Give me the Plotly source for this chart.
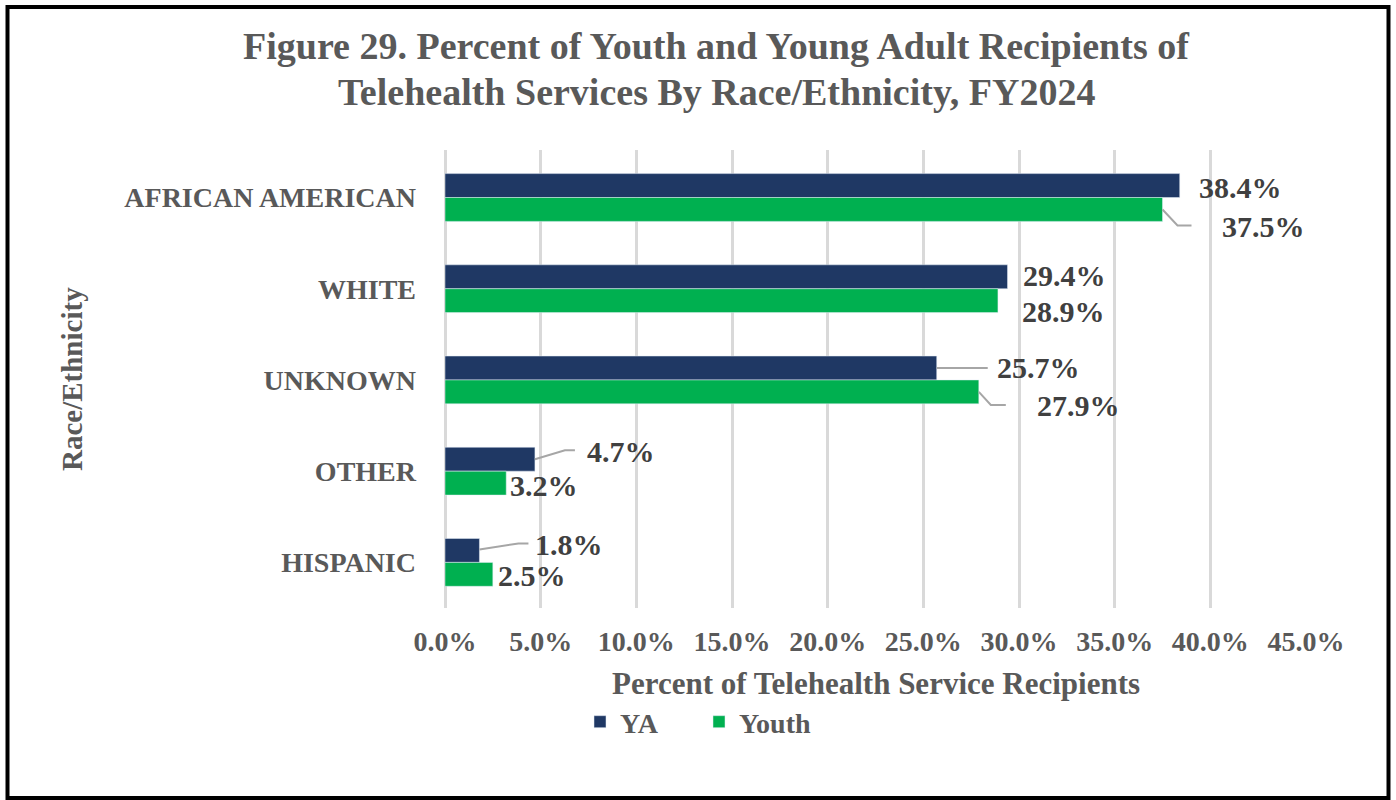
import plotly.graph_objects as go

# ---------------- data ----------------
categories = ["AFRICAN AMERICAN", "WHITE", "UNKNOWN", "OTHER", "HISPANIC"]
ya_values = [38.4, 29.4, 25.7, 4.7, 1.8]
youth_values = [37.5, 28.9, 27.9, 3.2, 2.5]
series_names = ["YA", "Youth"]
x_ticks = [0, 5, 10, 15, 20, 25, 30, 35, 40, 45]
x_tick_labels = [f"{v:.1f}%" for v in x_ticks]

title_lines = ["Figure 29. Percent of Youth and Young Adult Recipients of",
               "Telehealth Services By Race/Ethnicity, FY2024"]
x_title = "Percent of Telehealth Service Recipients"
y_title = "Race/Ethnicity"

# ---------------- style / layout ----------------
W, H = 1396, 800
ML, MR, MT, MB = 445, 90, 150, 192
PW, PH = W - ML - MR, H - MT - MB
YA_COLOR = "#1F3864"
YOUTH_COLOR = "#00B050"
TEXT_GRAY = "#595959"
LABEL_GRAY = "#404040"
GRID = "#D9D9D9"
LEADER = "#A6A6A6"
SERIF = "Liberation Serif"
BAR_HALF = 12  # half bar thickness in px (bar center offset from category center)


def px_to_paper_x(px):
    return (px - ML) / PW


def px_to_paper_y(py):
    return (MT + PH - py) / PH


fig = go.Figure()
fig.add_trace(go.Bar(y=categories, x=ya_values, name=series_names[0], orientation="h",
                     marker=dict(color=YA_COLOR)))
fig.add_trace(go.Bar(y=categories, x=youth_values, name=series_names[1], orientation="h",
                     marker=dict(color=YOUTH_COLOR)))

# label offsets (px): dx from bar end, dy from category center (down positive)
ya_label_off = [(17, -10), (13, -13), (58, -12), (50, -20), (54, -18)]
youth_label_off = [(57, 29), (22, 23), (56, 26), (2, 14), (3, 13)]
# leader lines: points relative to bar end / bar center (down positive), or None
ya_leaders = [None, None, [(0, 0), (51, 0)], [(0, 0), (30, -9), (40, -9)], [(0, -1), (39, -7), (49, -7)]]
youth_leaders = [[(0, 0), (15, 16), (29, 16)], None, [(0, 0), (12, 13), (27, 13)], None, None]

annotations = []
shapes = []
for series_vals, offs, leaders, bar_off in [
    (ya_values, ya_label_off, ya_leaders, -BAR_HALF),
    (youth_values, youth_label_off, youth_leaders, BAR_HALF),
]:
    for i, (cat, v) in enumerate(zip(categories, series_vals)):
        dx, dy = offs[i]
        annotations.append(dict(
            x=v, y=cat, xref="x", yref="y", text=f"{v:.1f}%", showarrow=False,
            xanchor="left", yanchor="middle", xshift=dx, yshift=-dy,
            font=dict(family=SERIF, size=30, color=LABEL_GRAY, weight="bold"),
        ))
        if leaders[i]:
            pts = leaders[i]
            path = "M " + " L ".join(f"{px},{-(bar_off + py)}" for px, py in pts)
            shapes.append(dict(
                type="path", path=path, xref="x", yref="y",
                xsizemode="pixel", ysizemode="pixel", xanchor=v, yanchor=i,
                line=dict(color=LEADER, width=2),
            ))

# title (two lines)
for line, cy in zip(title_lines, [46, 92]):
    annotations.append(dict(
        text=line, xref="paper", yref="paper",
        x=px_to_paper_x(716), y=px_to_paper_y(cy), xanchor="center", yanchor="middle",
        showarrow=False,
        font=dict(family=SERIF, size=38, color=TEXT_GRAY, weight="bold"),
    ))
# axis titles
annotations.append(dict(
    text=x_title, xref="paper", yref="paper", x=0.5, y=px_to_paper_y(683),
    xanchor="center", yanchor="middle", showarrow=False,
    font=dict(family=SERIF, size=31, color=TEXT_GRAY, weight="bold"),
))
annotations.append(dict(
    text=y_title, xref="paper", yref="paper", x=px_to_paper_x(72), y=0.5,
    xanchor="center", yanchor="middle", textangle=-90, showarrow=False,
    font=dict(family=SERIF, size=29, color=TEXT_GRAY, weight="bold"),
))

# outer frame
shapes.append(dict(
    type="rect", xref="paper", yref="paper",
    x0=px_to_paper_x(7.5), x1=px_to_paper_x(1388.5),
    y0=px_to_paper_y(798), y1=px_to_paper_y(7),
    line=dict(color="black", width=4), fillcolor="rgba(0,0,0,0)", layer="above",
))

fig.update_layout(
    width=W, height=H,
    margin=dict(l=ML, r=MR, t=MT, b=MB, autoexpand=False),
    paper_bgcolor="white", plot_bgcolor="white",
    barmode="group", bargap=0.476, bargroupgap=0,
    showlegend=True,
    legend=dict(
        orientation="h", x=px_to_paper_x(580), y=px_to_paper_y(697),
        xanchor="left", yanchor="top", traceorder="normal",
        font=dict(family=SERIF, size=28, color=TEXT_GRAY, weight="bold"),
        itemwidth=30, entrywidth=74, bgcolor="rgba(0,0,0,0)",
    ),
    annotations=annotations,
    shapes=shapes,
)
fig.update_xaxes(
    range=[0, 45], tickvals=x_ticks, ticktext=x_tick_labels,
    showgrid=True, gridcolor=GRID, gridwidth=2.5,
    zeroline=True, zerolinecolor=GRID, zerolinewidth=2.5,
    showline=False, ticks="", ticklabelstandoff=14,
    tickfont=dict(family=SERIF, size=28, color=TEXT_GRAY, weight="bold"),
)
fig.update_yaxes(
    autorange="reversed", showgrid=False, showline=False, ticks="",
    ticklabelstandoff=28,
    tickfont=dict(family=SERIF, size=28, color=TEXT_GRAY, weight="bold"),
)

fig.write_html("out.html", config={"displayModeBar": False},
               post_script="document.body.style.margin='0';")
